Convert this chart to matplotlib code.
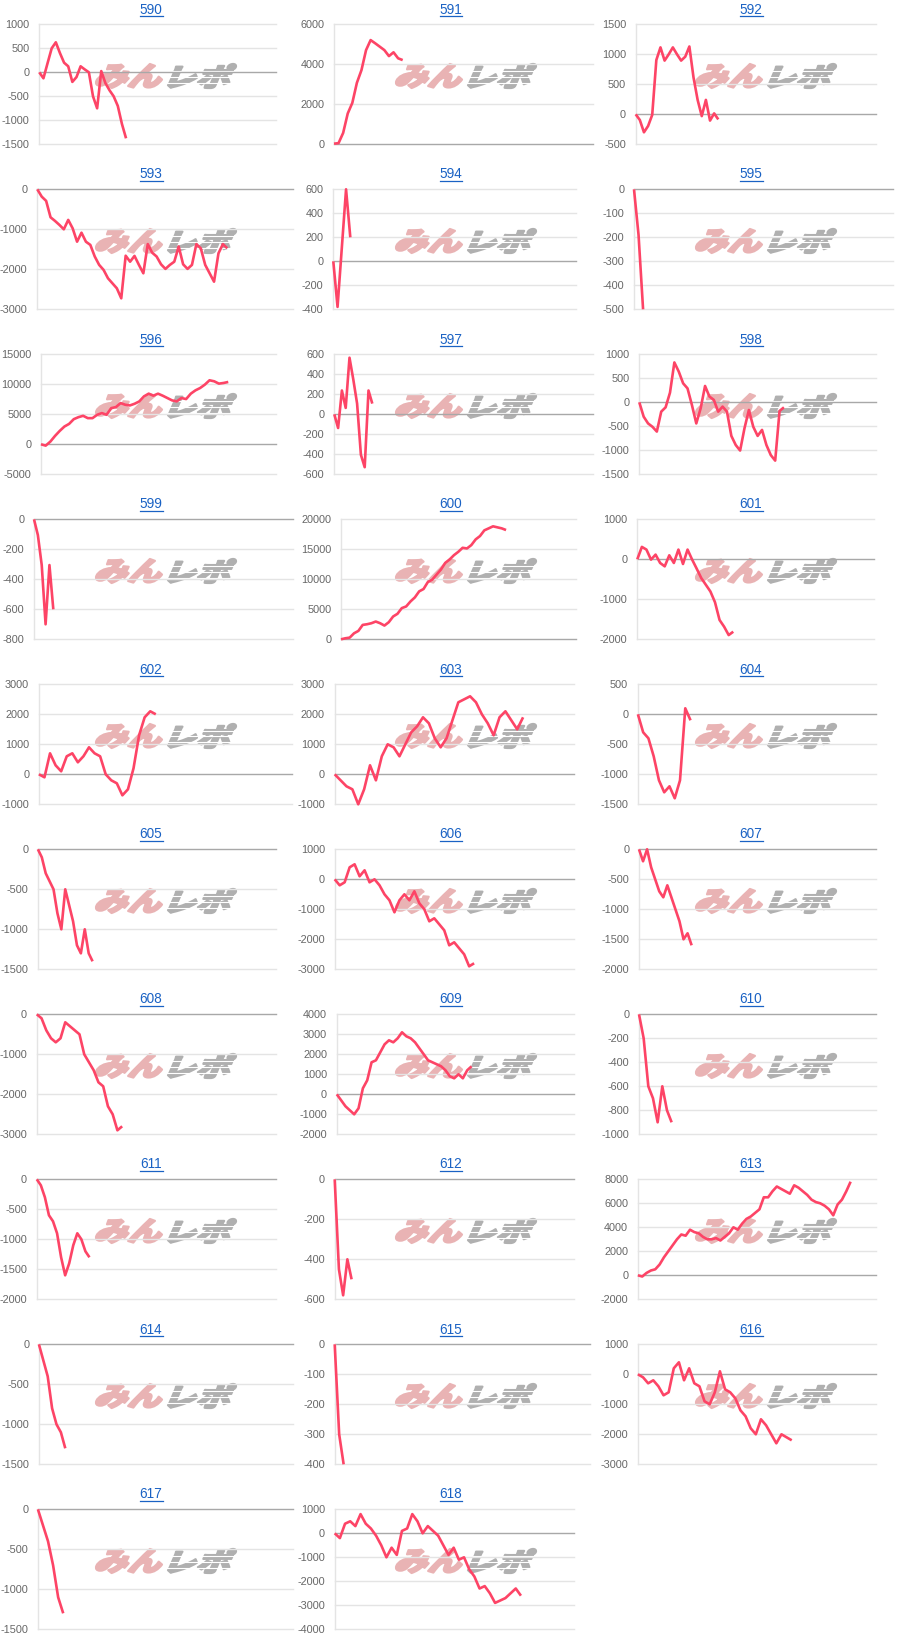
import matplotlib
matplotlib.use("Agg")
import matplotlib.pyplot as plt
import numpy as np
from matplotlib.textpath import TextPath
from matplotlib.font_manager import FontProperties
from matplotlib.patches import PathPatch
from matplotlib.transforms import Affine2D, IdentityTransform
from matplotlib.lines import Line2D

W, H = 900, 1650
DPI = 100

# ---- machine numbers ----
titles = [str(n) for n in range(590, 619)]

# ---- balance history per machine ----
s590 = [0, -125, 190, 500, 625, 400, 200, 125, -200, -100, 125, 60, 0, -500, -750, 25, -225, -375, -500, -700, -1075, -1375]
s591 = [30, 60, 570, 1540, 2070, 3075, 3710, 4710, 5210, 5050, 4880, 4710, 4410, 4600, 4300, 4210]
s592 = [0, -95, -300, -195, -10, 905, 1115, 895, 1000, 1115, 1000, 895, 960, 1130, 615, 240, -30, 240, -105, 15, -85]
s593 = [0, -183, -290, -700, -790, -890, -1000, -765, -975, -1310, -1085, -1310, -1390, -1680, -1890, -2015, -2225,
        -2350, -2475, -2725, -1660, -1810, -1665, -1890, -2100, -1370, -1585, -1680, -1875, -1990, -1890, -1810,
        -1430, -1875, -1990, -1890, -1370, -1475, -1890, -2100, -2310, -1600, -1370, -1475]
s594 = [0, -380, 110, 600, 200]
s595 = [0, -190, -500]
s596 = [0, -220, 450, 1400, 2230, 2960, 3400, 4190, 4525, 4750, 4360, 4360, 4920, 5200, 4920, 6030, 6200, 6870,
        6590, 6480, 6760, 7150, 7990, 8440, 8100, 8440, 8100, 7710, 7320, 7150, 7710, 7540, 8440, 8995, 9385,
        9945, 10670, 10500, 10110, 10220, 10390]
s597 = [0, -137, 238, 64, 566, 348, 107, -405, -529, 238, 107]
s598 = [0, -300, -440, -510, -610, -195, -105, 200, 830, 640, 395, 290, -55, -440, -125, 340, 120, 50, -195, -90,
        -195, -700, -890, -1005, -540, -160, -510, -700, -575, -890, -1100, -1215, -180, -105]
s599 = [0, -105, -305, -700, -305, -600]
s600 = [0, 170, 280, 1000, 1400, 2400, 2510, 2680, 2960, 2680, 2290, 2850, 3800, 4250, 5200, 5475, 6310, 6980,
        7990, 8380, 9550, 9945, 10780, 11620, 12740, 13300, 14020, 14580, 15250, 15140, 15700, 16650, 17210,
        18160, 18490, 18830, 18660, 18490, 18210]
s601 = [0, 310, 243, -8, 117, -92, -176, 100, -92, 243, -117, 243, -8, -235, -470, -637, -805, -1073, -1517,
        -1685, -1894, -1810]
s602 = [0, -100, 700, 300, 100, 600, 700, 400, 600, 900, 700, 600, 0, -200, -300, -700, -500, 200, 1300, 1900,
        2100, 2000]
s603 = [0, -200, -400, -500, -1000, -500, 300, -200, 600, 1000, 900, 600, 1000, 1400, 1600, 1900, 1700, 1200,
        900, 1200, 1800, 2400, 2500, 2600, 2400, 2000, 1700, 1300, 1900, 2100, 1800, 1500, 1900]
s604 = [0, -300, -400, -700, -1100, -1300, -1200, -1400, -1100, 100, -100]
s605 = [0, -100, -300, -400, -500, -800, -1000, -500, -700, -900, -1200, -1300, -1000, -1300, -1400]
s606 = [0, -200, -100, 400, 500, 100, 300, -100, 0, -200, -500, -700, -1100, -700, -500, -700, -400, -800,
        -1000, -1400, -1300, -1500, -1700, -2200, -2100, -2300, -2500, -2900, -2800]
s607 = [0, -200, 0, -300, -500, -700, -800, -600, -800, -1000, -1200, -1500, -1400, -1600]
s608 = [0, -100, -400, -600, -700, -600, -200, -300, -400, -500, -1000, -1200, -1400, -1700, -1800, -2300,
        -2500, -2900, -2800]
s609 = [0, -300, -600, -800, -1000, -700, 300, 700, 1600, 1700, 2100, 2500, 2700, 2600, 2800, 3100, 2900, 2800,
        2600, 2300, 2000, 1700, 1600, 1500, 1400, 1200, 900, 800, 1000, 800, 1200, 1400]
s610 = [0, -200, -600, -700, -900, -600, -800, -900]
s611 = [0, -100, -300, -600, -700, -900, -1300, -1600, -1400, -1100, -900, -1000, -1200, -1300]
s612 = [0, -450, -580, -400, -500]
s613 = [0, -100, 200, 400, 500, 900, 1500, 2000, 2500, 3000, 3400, 3300, 3800, 3600, 3500, 3200, 3000, 3000,
        3100, 2900, 3200, 3500, 4000, 3800, 4300, 4700, 4900, 5200, 5500, 6500, 6500, 7000, 7400, 7200, 7000,
        6800, 7500, 7300, 7000, 6700, 6300, 6100, 6000, 5800, 5500, 5000, 5900, 6300, 7000, 7800]
s614 = [0, -200, -400, -800, -1000, -1100, -1300]
s615 = [0, -300, -400]
s616 = [0, -100, -300, -200, -400, -700, -600, 200, 400, -200, 200, -300, -400, -900, -1000, -600, 100, -500,
        -600, -800, -1200, -1400, -1800, -2000, -1500, -1700, -2000, -2300, -2000, -2100, -2200]
s617 = [0, -200, -400, -700, -1100, -1300]
s618 = [0, -200, 400, 500, 300, 800, 400, 200, -100, -500, -1000, -600, -900, 100, 200, 800, 500, 0, 300, 100,
        -100, -500, -900, -600, -1100, -1000, -1500, -1800, -2300, -2200, -2500, -2900, -2800, -2700, -2500,
        -2300, -2600]

series = [s590, s591, s592, s593, s594, s595, s596, s597, s598, s599, s600, s601, s602, s603, s604, s605,
          s606, s607, s608, s609, s610, s611, s612, s613, s614, s615, s616, s617, s618]

# y-axis scale per chart: (min, max, step)
y_scales = [(-1500, 1000, 500), (0, 6000, 2000), (-500, 1500, 500), (-3000, 0, 1000), (-400, 600, 200),
            (-500, 0, 100), (-5000, 15000, 5000), (-600, 600, 200), (-1500, 1000, 500), (-800, 0, 200),
            (0, 20000, 5000), (-2000, 1000, 1000), (-1000, 3000, 1000), (-1000, 3000, 1000), (-1500, 500, 500),
            (-1500, 0, 500), (-3000, 1000, 1000), (-2000, 0, 500), (-3000, 0, 1000), (-2000, 4000, 1000),
            (-1000, 0, 200), (-2000, 0, 500), (-600, 0, 200), (-2000, 8000, 2000), (-1500, 0, 500),
            (-400, 0, 100), (-3000, 1000, 1000), (-1500, 0, 500), (-4000, 1000, 1000)]

# plot-area geometry inside each 300x165 cell: (left px, right px, x-axis extent)
frames = [(39.3, 276, 57.3), (34, 292.7, 56.5), (35.7, 276, 58.2), (37.3, 292.7, 57.8), (33.3, 276, 57.1),
          (34, 292.7, 57), (41, 276, 50.2), (34.3, 292.7, 68), (39.3, 276, 54), (34, 292.7, 67),
          (41, 276, 54.1), (37.3, 274, 51.8), (38.9, 291.6, 45.4), (34.7, 273.7, 40.6), (37.9, 275.8, 45.2),
          (37.9, 275.8, 60.9), (34.7, 273.7, 48), (39, 275.8, 58.5), (36.8, 275.8, 50.4), (36.8, 273.7, 54.5),
          (39, 275.8, 50.8), (36.8, 275.8, 59), (34.7, 273.7, 56.6), (37.9, 275.8, 54.8), (38.9, 292.6, 57.7),
          (34.7, 289.5, 57), (37.9, 275.8, 46.4), (37.9, 292.6, 50.3), (34.7, 273.7, 46.2)]

LINE = "#fd4466"
GRID = "#e4e4e4"
ZERO = "#a8a8a8"
TICK = "#666666"
LINK = "#1a62c4"
PINK = "#e9b3b4"
GRAY = "#b0b0b0"

CELL_W, CELL_H = 300, 165
PLOT_TOP, PLOT_BOT = 24.3, 144.3

fig = plt.figure(figsize=(W / DPI, H / DPI), dpi=DPI)
fig.patch.set_facecolor("white")

jp_heavy = FontProperties(family="Noto Sans CJK JP", weight="heavy")


def fitted_text(text, prop, x_left, x_right, y_top, y_bot, slant=18):
    """Slanted glyph outline scaled into a pixel box (y measured from top)."""
    p = TextPath((0, 0), text, size=50, prop=prop)
    p = p.transformed(Affine2D().skew_deg(slant, 0))
    e = p.get_extents()
    sx = (x_right - x_left) / e.width
    sy = (y_bot - y_top) / e.height
    t = Affine2D().translate(-e.x0, -e.y0).scale(sx, sy).translate(x_left, H - y_bot)
    return p.transformed(t)


def add_logo(x0, y0):
    a = fitted_text("みん", jp_heavy, x0 + 96, x0 + 162, y0 + 64, y0 + 88)
    b = fitted_text("レポ", jp_heavy, x0 + 168, x0 + 236, y0 + 64, y0 + 88)
    fig.add_artist(PathPatch(a, facecolor=PINK, edgecolor=PINK, lw=1.6, joinstyle="round",
                             transform=IdentityTransform(), zorder=-5))
    fig.add_artist(PathPatch(b, facecolor=GRAY, edgecolor=GRAY, lw=1.6, joinstyle="round",
                             transform=IdentityTransform(), zorder=-5))
    # horizontal speed stripes through the grey half
    for yy in (70.5, 76.5, 82.5):
        fig.add_artist(Line2D([(x0 + 166) / W, (x0 + 240) / W], [1 - (y0 + yy) / H] * 2,
                              color="white", lw=0.8, zorder=-4))


for i, (title, vals, (ymin, ymax, step), (L, R, xmax)) in enumerate(zip(titles, series, y_scales, frames)):
    col, row = i % 3, i // 3
    x0, y0 = col * CELL_W, row * CELL_H

    add_logo(x0, y0)

    ax = fig.add_axes([(x0 + L) / W, 1 - (y0 + PLOT_BOT) / H, (R - L) / W, (PLOT_BOT - PLOT_TOP) / H])
    ax.set_facecolor("none")
    ax.set_xlim(0, xmax)
    ax.set_ylim(ymin, ymax)

    ticks = np.arange(ymin, ymax + step / 2, step)
    for t in ticks:
        ax.axhline(t, color=ZERO if t == 0 else GRID, lw=1.0, zorder=1, clip_on=False)

    ax.plot(np.arange(len(vals)), vals, color=LINE, lw=1.9, zorder=3,
            solid_joinstyle="round", solid_capstyle="butt", clip_on=False)

    ax.set_yticks(ticks)
    ax.set_yticklabels([f"{int(t)}" for t in ticks])
    ax.tick_params(axis="y", length=0, pad=7, labelsize=7.8, labelcolor=TICK)
    for lab in ax.get_yticklabels():
        lab.set_family("Liberation Sans")
    ax.set_xticks([])
    for side in ("top", "right", "bottom"):
        ax.spines[side].set_visible(False)
    ax.spines["left"].set_color(GRID)
    ax.spines["left"].set_linewidth(1.0)

    cx = x0 + 151
    fig.text(cx / W, 1 - (y0 + 9.5) / H, title, ha="center", va="center", color=LINK,
             fontsize=9.8, family="Liberation Sans")
    fig.add_artist(Line2D([(cx - 11.5) / W, (cx + 11.5) / W], [1 - (y0 + 15.5) / H] * 2,
                          color=LINK, lw=0.9))

fig.savefig("out.png", dpi=DPI, facecolor="white")
